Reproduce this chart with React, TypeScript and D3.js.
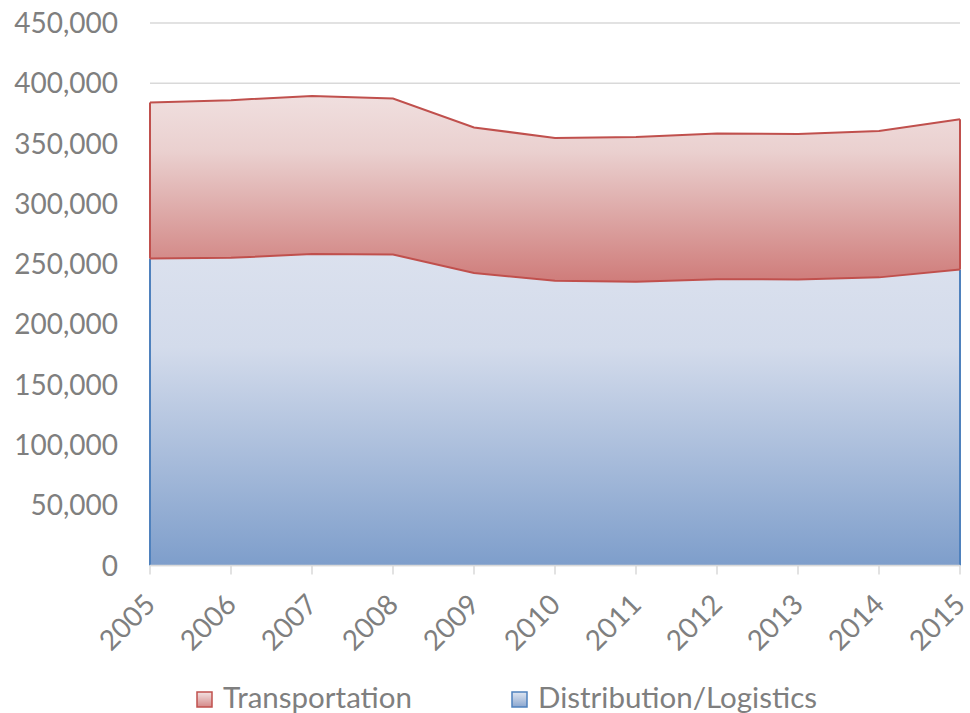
import React from "react";
import * as d3 from "d3";

const years = ["2005","2006","2007","2008","2009","2010","2011","2012","2013","2014","2015"];
const distribution = [254700, 255200, 258300, 258000, 242700, 236100, 235300, 237500, 237300, 239000, 245600];
const transportation = [129300, 130800, 131200, 129400, 120600, 118600, 120200, 120900, 120700, 121500, 124600];
const yTicks = [0, 50000, 100000, 150000, 200000, 250000, 300000, 350000, 400000, 450000];
const seriesNames = ["Transportation", "Distribution/Logistics"];

const W = 970, H = 713;
const FONT = "Lato, 'Open Sans', sans-serif";
const TEXT = "#7f7f7f";

export default function App() {
  const x = d3.scalePoint<string>().domain(years).range([150, 960]);
  const y = d3.scaleLinear().domain([0, 450000]).range([565.5, 23]);
  const rows = years.map((yr, i) => ({ yr, d: distribution[i], t: transportation[i] }));

  const areaDist = d3.area<any>().x(r => x(r.yr)!).y0(y(0)).y1(r => y(r.d));
  const areaTrans = d3.area<any>().x(r => x(r.yr)!).y0(r => y(r.d)).y1(r => y(r.d + r.t));
  const lineTop = d3.line<any>().x(r => x(r.yr)!).y(r => y(r.d + r.t));
  const lineMid = d3.line<any>().x(r => x(r.yr)!).y(r => y(r.d));
  const fmt = d3.format(",");

  const x0 = x(years[0])!, x1 = x(years[years.length - 1])!;
  const last = rows[rows.length - 1], first = rows[0];

  return (
    <svg width={W} height={H} style={{ position: "absolute", left: 0, top: 0, background: "#fff" }} fontFamily={FONT}>
      <defs>
        <linearGradient id="gRed" x1="0" y1="0" x2="0" y2="1">
          <stop offset="0" stopColor="#f0dfdf" />
          <stop offset="0.3" stopColor="#ead0cf" />
          <stop offset="1" stopColor="#cf7c7a" />
        </linearGradient>
        <linearGradient id="gBlue" x1="0" y1="0" x2="0" y2="1">
          <stop offset="0" stopColor="#dbe1ee" />
          <stop offset="0.3" stopColor="#d3dbeb" />
          <stop offset="1" stopColor="#7e9ecb" />
        </linearGradient>
        <linearGradient id="gRedL" x1="0" y1="0" x2="0" y2="1">
          <stop offset="0" stopColor="#f2e2e2" />
          <stop offset="1" stopColor="#d58888" />
        </linearGradient>
        <linearGradient id="gBlueL" x1="0" y1="0" x2="0" y2="1">
          <stop offset="0" stopColor="#e0e6f1" />
          <stop offset="1" stopColor="#8aa6cf" />
        </linearGradient>
      </defs>
      {yTicks.map(v => (
        <g key={v}>
          <line x1={x0} x2={x1} y1={y(v)} y2={y(v)} stroke="#d9d9d9" strokeWidth={1.5} />
          <text x={118} y={y(v)} dy="0.36em" textAnchor="end" fontSize={28} fill={TEXT}>{fmt(v)}</text>
        </g>
      ))}
      <path d={areaDist(rows)!} fill="url(#gBlue)" />
      <path d={areaTrans(rows)!} fill="url(#gRed)" />
      <line x1={x0} x2={x0} y1={y(0)} y2={y(first.d)} stroke="#4f81bd" strokeWidth={2} />
      <line x1={x1} x2={x1} y1={y(0)} y2={y(last.d)} stroke="#4f81bd" strokeWidth={2} />
      <path d={lineMid(rows)!} fill="none" stroke="#c0504d" strokeWidth={2} />
      <path d={lineTop(rows)!} fill="none" stroke="#c0504d" strokeWidth={2} />
      <line x1={x0} x2={x0} y1={y(first.d)} y2={y(first.d + first.t)} stroke="#c0504d" strokeWidth={2} />
      <line x1={x1} x2={x1} y1={y(last.d)} y2={y(last.d + last.t)} stroke="#c0504d" strokeWidth={2} />
      <line x1={x0} x2={x1} y1={y(0)} y2={y(0)} stroke="#d9d9d9" strokeWidth={1.5} />
      {years.map(yr => (
        <g key={yr}>
          <line x1={x(yr)} x2={x(yr)} y1={y(0)} y2={y(0) + 9} stroke="#d9d9d9" strokeWidth={1.5} />
          <text transform={`translate(${x(yr)! - 7},${y(0) + 27}) rotate(-45)`} textAnchor="end" dy="0.7em" fontSize={28} fill={TEXT}>{yr}</text>
        </g>
      ))}
      <g>
        <rect x={197} y={692} width={15} height={15} fill="url(#gRedL)" stroke="#c0504d" strokeWidth={1.5} />
        <text x={223} y={708} fontSize={29.5} fill={TEXT}>{seriesNames[0]}</text>
        <rect x={512} y={692} width={15} height={15} fill="url(#gBlueL)" stroke="#4f81bd" strokeWidth={1.5} />
        <text x={538} y={708} fontSize={29.5} fill={TEXT}>{seriesNames[1]}</text>
      </g>
    </svg>
  );
}
